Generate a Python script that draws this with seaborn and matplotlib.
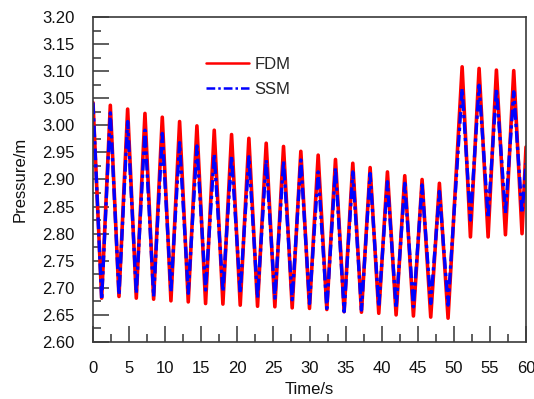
import numpy as np
import pandas as pd
import matplotlib
matplotlib.use("Agg")
import matplotlib.pyplot as plt
from matplotlib.ticker import MultipleLocator, FormatStrFormatter
import seaborn as sns

# Peak / trough vertices
fdm_t = [0.0, 1.2, 2.4, 3.6, 4.8, 6.0, 7.2, 8.4, 9.6, 10.8, 12.0, 13.2, 14.4, 15.6,
         16.8, 18.0, 19.2, 20.4, 21.6, 22.8, 24.0, 25.2, 26.4, 27.6, 28.8, 30.0,
         31.2, 32.4, 33.6, 34.8, 36.0, 37.2, 38.4, 39.6, 40.8, 42.0, 43.2, 44.4,
         45.6, 46.8, 48.0, 49.2, 51.15, 52.3, 53.5, 54.75, 55.9, 57.15, 58.3, 59.45, 60.0]
fdm_p = [3.042, 2.681, 3.037, 2.684, 3.030, 2.681, 3.022, 2.679, 3.015, 2.676,
         3.007, 2.674, 2.999, 2.671, 2.991, 2.670, 2.983, 2.668, 2.976, 2.666,
         2.967, 2.665, 2.961, 2.663, 2.952, 2.662, 2.945, 2.660, 2.937, 2.656,
         2.930, 2.655, 2.922, 2.653, 2.914, 2.650, 2.907, 2.648, 2.900, 2.646,
         2.893, 2.644, 3.108, 2.794, 3.105, 2.794, 3.102, 2.798, 3.101, 2.800, 2.960]

ssm_t = fdm_t
ssm_p = [3.042, 2.678, 3.023, 2.687, 3.007, 2.690, 2.991, 2.684, 2.985, 2.693,
         2.968, 2.690, 2.962, 2.696, 2.947, 2.693, 2.944, 2.690, 2.942, 2.681,
         2.936, 2.681, 2.934, 2.678, 2.936, 2.671, 2.914, 2.662, 2.921, 2.656,
         2.914, 2.659, 2.911, 2.665, 2.896, 2.662, 2.893, 2.665, 2.890, 2.671,
         2.878, 2.668, 3.068, 2.825, 3.074, 2.829, 3.068, 2.838, 3.062, 2.838, 2.930]

x_ticks = [0, 5, 10, 15, 20, 25, 30, 35, 40, 45, 50, 55, 60]

sns.set_theme(style="white")
plt.rcParams['font.family'] = ['Liberation Sans', 'DejaVu Sans']

fig = plt.figure(figsize=(5.34, 3.99), dpi=100)
ax = fig.add_axes([93/534, 1-342/399, (526-93)/534, (342-17)/399])

df_f = pd.DataFrame({"t": fdm_t, "p": fdm_p})
df_s = pd.DataFrame({"t": ssm_t, "p": ssm_p})
sns.lineplot(data=df_f, x="t", y="p", ax=ax, color="#ff0000", lw=2.6,
             sort=False, estimator=None, label="FDM")
sns.lineplot(data=df_s, x="t", y="p", ax=ax, color="#0000ff", lw=2.4,
             sort=False, estimator=None, label="SSM", dashes=False)
ax.lines[1].set_dashes((3.5, 1.2, 1.0, 1.2))

ax.set_xlim(0, 60)
ax.set_ylim(2.60, 3.20)
ax.set_xticks(x_ticks)
ax.xaxis.set_minor_locator(MultipleLocator(2.5))
ax.yaxis.set_major_locator(MultipleLocator(0.05))
ax.yaxis.set_minor_locator(MultipleLocator(0.025))
ax.yaxis.set_major_formatter(FormatStrFormatter("%.2f"))

ax.tick_params(axis="both", which="major", direction="in", length=11.8, width=1.1,
               color="#333333", labelsize=12, labelcolor="#111111",
               bottom=True, left=True, top=False, right=False)
ax.tick_params(axis="both", which="minor", direction="in", length=6, width=1.1,
               color="#333333", bottom=True, left=True, top=False, right=False)
ax.tick_params(axis="x", which="major", pad=14)
ax.tick_params(axis="y", which="major", pad=13)

for s in ax.spines.values():
    s.set_color("#3a3a3a")
    s.set_linewidth(1.2)
    s.set_visible(True)

ax.set_xlabel("Time/s", fontsize=12, color="#111111", labelpad=4)
ax.set_ylabel("Pressure/m", fontsize=12, color="#111111", labelpad=11)

leg = ax.legend(loc="upper left", bbox_to_anchor=(0.262, 0.878), frameon=False,
                fontsize=12, handlelength=2.55, handletextpad=0.35,
                borderpad=0, borderaxespad=0, labelspacing=0.6)
for ln in leg.get_lines():
    ln.set_linewidth(1.8)

fig.savefig("out.png", dpi=100)
